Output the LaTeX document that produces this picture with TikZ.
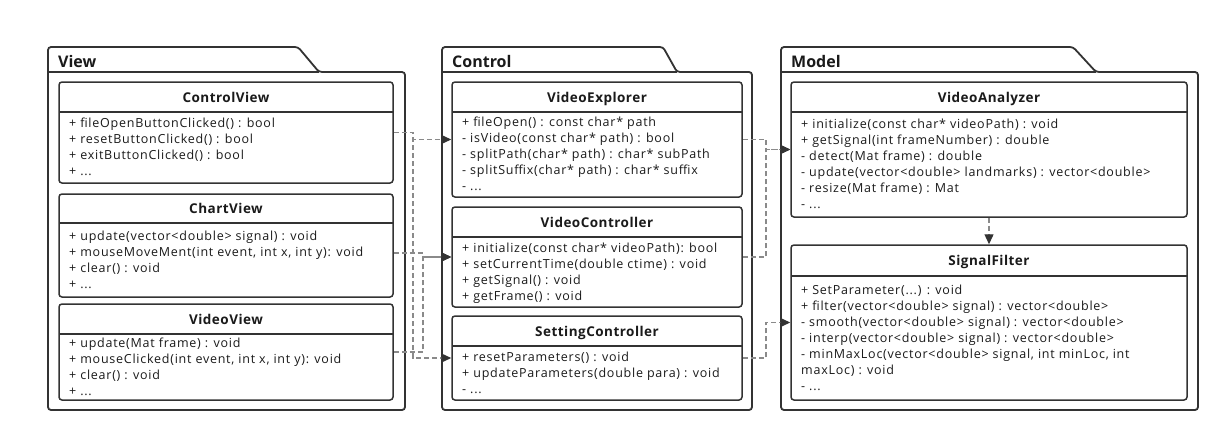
\documentclass[tikz,border=0pt]{standalone}
\usepackage{fontspec}
\setmainfont{Open Sans}
\newfontfamily\memberfont[LetterSpace=6]{Open Sans}
\newfontfamily\titlefont[LetterSpace=3.5]{Open Sans}
\usetikzlibrary{arrows.meta,calc}
\definecolor{ln}{HTML}{333333}
\definecolor{dl}{HTML}{8A8A8A}
\definecolor{tx}{HTML}{1A1A1A}
\newcommand\mtop{\rule{0pt}{12pt}}
\newcommand\mbot{\rule[-4pt]{0pt}{4pt}}
\tikzset{
  pkg/.style={draw=ln, line width=1.8pt, rounded corners=3pt, fill=white},
  pkgsep/.style={draw=ln, line width=1.8pt},
  pkglabel/.style={font=\fontsize{16}{18}\selectfont\bfseries, text=tx, anchor=base west, inner sep=0},
  classbox/.style={draw=ln, line width=1.5pt, rounded corners=3pt, fill=white, inner sep=0},
  sepline/.style={draw=ln, line width=1.5pt},
  classtitle/.style={font=\titlefont\fontsize{13.5}{16}\selectfont\bfseries, text=tx, inner sep=0, anchor=base},
  members/.style={font=\memberfont\fontsize{12.5}{16}\selectfont, text=tx, align=left, inner sep=0, anchor=west},
  dep/.style={draw=dl, line width=1.3pt, dash pattern=on 5pt off 3pt, -{Triangle[length=10pt,width=9pt,color=ln]}},
}
% #1 name, #2 x1, #3 y1, #4 x2, #5 y2, #6 ysep, #7 title, #8 members
\newcommand\umlclass[8]{%
  \node[classbox, minimum width={#4-#2}, minimum height={#5-#3}] (#1) at ({(#2+#4)/2},{(#3+#5)/2}) {};
  \draw[sepline] (#2,#6) -- (#4,#6);
  \node[classtitle] (#1-t) at ({(#2+#4)/2},{(#3+#6)/2+5}) {#7};
  \node[members] (#1-m) at ({#2+10},{(#6+#5)/2}) {\mtop #8\mbot};
}
% #1 name, #2 x1, #3 tab end, #4 slant end, #5 x2, #6 label
\newcommand\umlpkg[6]{%
  \draw[pkg] (#2,72) -- (#2,47) -- (#3,47) -- (#4,72) -- (#5,72) -- (#5,410) -- (#2,410) -- cycle;
  \draw[pkgsep] (#2,72) -- (#4,72);
  \node[pkglabel] (#1) at (#2+10,67) {#6};
}
\begin{document}
\begin{tikzpicture}[x=1pt,y=-1pt]
\useasboundingbox (0,0) rectangle (1230,442);
\fill[white] (0,0) rectangle (1230,442);

\umlpkg{view}{48}{298}{319}{405}{View}
\umlpkg{control}{442}{663}{677}{752}{Control}
\umlpkg{model}{781}{1073}{1096}{1198}{Model}

\umlclass{cv}{59}{82}{393}{183}{112}{ControlView}{%
+ fileOpenButtonClicked() : bool\\
+ resetButtonClicked() : bool\\
+ exitButtonClicked() : bool\\
+ ...}
\umlclass{chv}{59}{194}{393}{297}{223}{ChartView}{%
+ update(vector<double> signal) : void\\
+ mouseMoveMent(int event, int x, int y): void\\
+ clear() : void\\
+ ...}
\umlclass{vv}{59}{304}{393}{400}{334}{VideoView}{%
+ update(Mat frame) : void\\
+ mouseClicked(int event, int x, int y): void\\
+ clear() : void\\
+ ...}

\umlclass{ve}{452}{82}{742}{197}{112}{VideoExplorer}{%
+ fileOpen() : const char* path\\
- isVideo(const char* path) : bool\\
- splitPath(char* path) : char* subPath\\
- splitSuffix(char* path) : char* suffix\\
- ...}
\umlclass{vc}{452}{207}{742}{307}{237}{VideoController}{%
+ initialize(const char* videoPath): bool\\
+ setCurrentTime(double ctime) : void\\
+ getSignal() : void\\
+ getFrame() : void}
\umlclass{sc}{452}{316}{742}{400}{346}{SettingController}{%
+ resetParameters() : void\\
+ updateParameters(double para) : void\\
- ...}

\umlclass{va}{791}{82}{1187}{217}{112}{VideoAnalyzer}{%
+ initialize(const char* videoPath) : void\\
+ getSignal(int frameNumber) : double\\
- detect(Mat frame) : double\\
- update(vector<double> landmarks) : vector<double>\\
- resize(Mat frame) : Mat\\
- ...}
\umlclass{sf}{791}{245}{1187}{400}{276}{SignalFilter}{%
+ SetParameter(...) : void\\
+ filter(vector<double> signal) : vector<double>\\
- smooth(vector<double> signal) : vector<double>\\
- interp(vector<double> signal) : vector<double>\\
- minMaxLoc(vector<double> signal, int minLoc, int\\
maxLoc) : void\\
- ...}

\coordinate (lx1) at (413,0);
\coordinate (lx2) at (423,0);
\coordinate (rx) at (766,0);

\draw[dep] (cv.east) -| (lx1 |- ve.west) -- (ve.west);
\draw[dep] (cv.east) -| (lx1 |- sc.west) -- (sc.west);
\draw[dep] ([yshift=-7.5pt]chv.east) -| (lx2 |- vc.west) -- (vc.west);
\draw[dep] (vv.east) -| (lx2 |- vc.west) -- (vc.west);
\draw[dep] (ve.east) -| (rx |- va.west) -- (va.west);
\draw[dep] (vc.east) -| (rx |- va.west) -- (va.west);
\draw[dep] (sc.east) -| (rx |- sf.west) -- (sf.west);
\draw[dep] (va.south) -- (sf.north);
\end{tikzpicture}
\end{document}
